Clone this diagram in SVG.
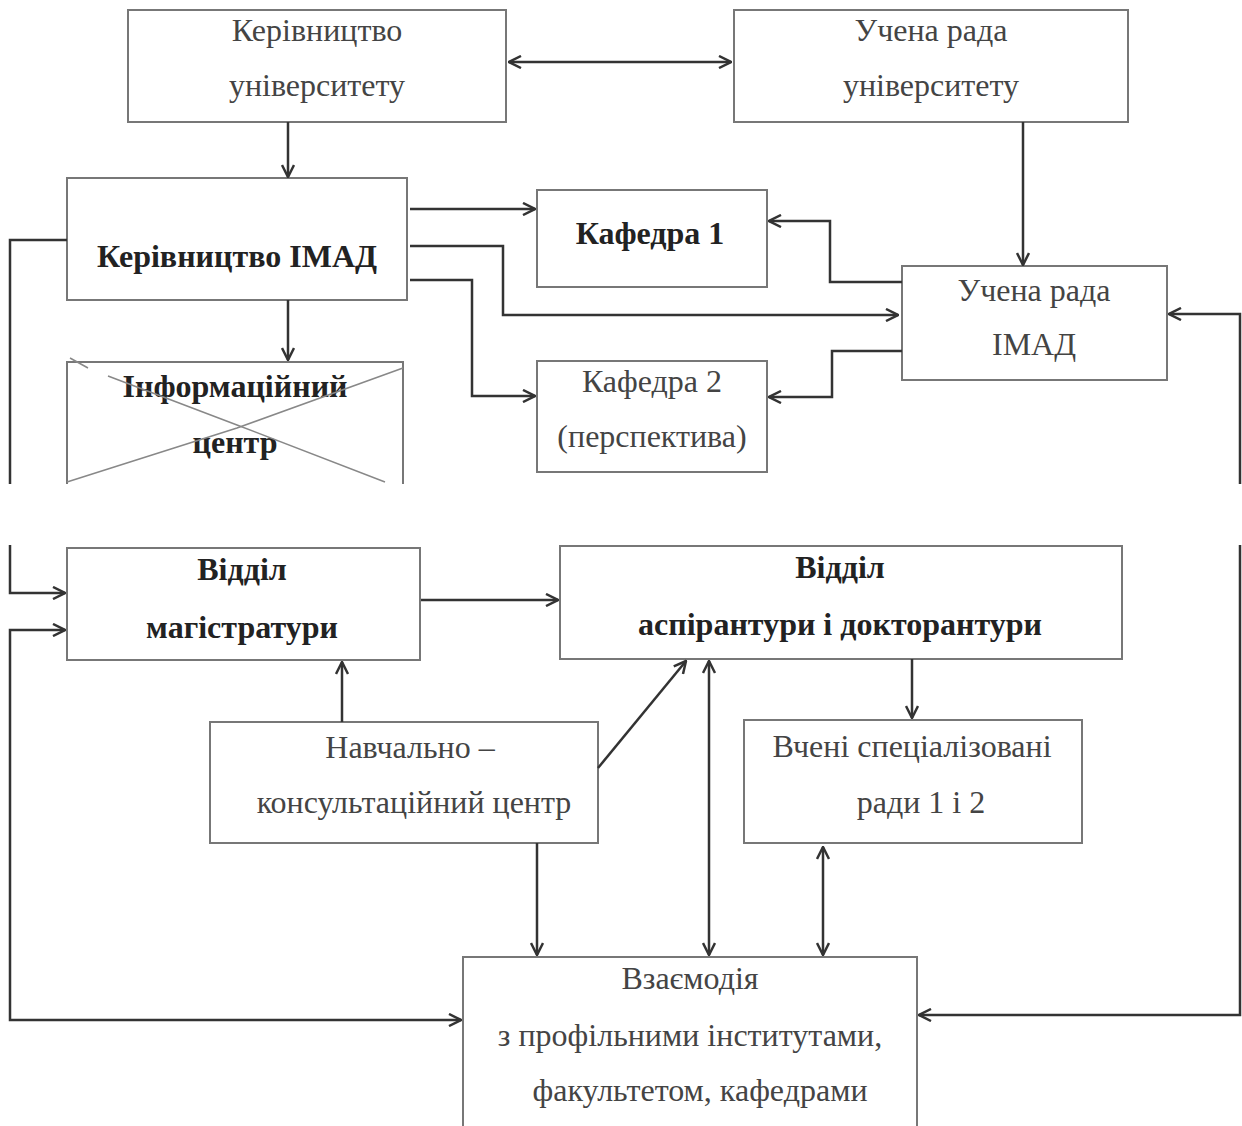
<svg xmlns="http://www.w3.org/2000/svg" width="1242" height="1126" viewBox="0 0 1242 1126">
<style>
.box{fill:#fff;stroke:#777;stroke-width:2}
.t{font-family:"Liberation Serif","Times New Roman",serif;font-size:32px;fill:#444;text-anchor:middle}
.b{font-weight:bold;fill:#222}
.ln{fill:none;stroke:#333;stroke-width:2.5}
.x{fill:none;stroke:#888;stroke-width:1.5}
</style>
<defs>
<marker id="ar" viewBox="0 0 14 14" refX="13" refY="7" markerWidth="14" markerHeight="14" markerUnits="userSpaceOnUse" orient="auto-start-reverse">
<path d="M1,1 L13,7 L1,13" fill="none" stroke="#333" stroke-width="2.5"/>
</marker>
</defs>
<rect width="1242" height="1126" fill="#fff"/>
<g id="kerivnytstvo-univ"><rect class="box" x="128" y="10" width="378" height="112"/><text class="t" x="317" y="41">Керівництво</text><text class="t" x="317" y="96">університету</text></g>
<g id="vchena-rada-univ"><rect class="box" x="734" y="10" width="394" height="112"/><text class="t" x="931" y="41">Учена рада</text><text class="t" x="931" y="96">університету</text></g>
<g id="kerivnytstvo-imad"><rect class="box" x="67" y="178" width="340" height="122"/><text class="t b" x="237" y="267">Керівництво ІМАД</text></g>
<g id="kafedra1"><rect class="box" x="537" y="190" width="230" height="97"/><text class="t b" x="650" y="244">Кафедра 1</text></g>
<g id="vchena-rada-imad"><rect class="box" x="902" y="266" width="265" height="114"/><text class="t" x="1034" y="301">Учена рада</text><text class="t" x="1034" y="355">ІМАД</text></g>
<g id="info-center"><rect class="box" x="67" y="362" width="336" height="124"/><text class="t b" x="235" y="397">Інформаційний</text><text class="t b" x="235" y="453">центр</text><path class="x" d="M67,482 L237,428 L403,368"/><path class="x" d="M70,358 L88,368 M108,376 L237,425 L385,482"/></g>
<g id="kafedra2"><rect class="box" x="537" y="361" width="230" height="111"/><text class="t" x="652" y="392">Кафедра 2</text><text class="t" x="652" y="447">(перспектива)</text></g>
<rect x="0" y="484" width="1242" height="61" fill="#fff"/>
<g id="viddil-mag"><rect class="box" x="67" y="548" width="353" height="112"/><text class="t b" x="242" y="580">Відділ</text><text class="t b" x="242" y="638">магістратури</text></g>
<g id="viddil-asp"><rect class="box" x="560" y="546" width="562" height="113"/><text class="t b" x="840" y="578">Відділ</text><text class="t b" x="840" y="635">аспірантури і докторантури</text></g>
<g id="nkc"><rect class="box" x="210" y="722" width="388" height="121"/><text class="t" x="410" y="758">Навчально –</text><text class="t" x="414" y="813">консультаційний центр</text></g>
<g id="vcheni-rady"><rect class="box" x="744" y="720" width="338" height="123"/><text class="t" x="912" y="757">Вчені спеціалізовані</text><text class="t" x="921" y="813">ради 1 і 2</text></g>
<g id="vzaiemodiia"><rect class="box" x="463" y="957" width="454" height="175"/><text class="t" x="690" y="989">Взаємодія</text><text class="t" x="690" y="1046">з профільними інститутами,</text><text class="t" x="700" y="1101">факультетом, кафедрами</text></g>
<g id="connectors">
<path class="ln" d="M509,62 H731" marker-start="url(#ar)" marker-end="url(#ar)"/>
<path class="ln" d="M288,122 V177" marker-end="url(#ar)"/>
<path class="ln" d="M1023,122 V265" marker-end="url(#ar)"/>
<path class="ln" d="M288,300 V360" marker-end="url(#ar)"/>
<path class="ln" d="M410,209 H535" marker-end="url(#ar)"/>
<path class="ln" d="M410,246 H503 V315 H898" marker-end="url(#ar)"/>
<path class="ln" d="M410,280 H472 V396 H535" marker-end="url(#ar)"/>
<path class="ln" d="M902,282 H830 V221 H769" marker-end="url(#ar)"/>
<path class="ln" d="M902,351 H832 V397 H769" marker-end="url(#ar)"/>
<path class="ln" d="M67,240 H10 V484"/>
<path class="ln" d="M1240,484 V314 H1169" marker-end="url(#ar)"/>
<path class="ln" d="M10,545 V593 H65" marker-end="url(#ar)"/>
<path class="ln" d="M65,630 H10 V1020 H461" marker-start="url(#ar)" marker-end="url(#ar)"/>
<path class="ln" d="M1240,545 V1015 H919" marker-end="url(#ar)"/>
<path class="ln" d="M421,600 H558" marker-end="url(#ar)"/>
<path class="ln" d="M342,722 V662" marker-end="url(#ar)"/>
<path class="ln" d="M598,768 L686,661" marker-end="url(#ar)"/>
<path class="ln" d="M709,661 V955" marker-start="url(#ar)" marker-end="url(#ar)"/>
<path class="ln" d="M912,659 V718" marker-end="url(#ar)"/>
<path class="ln" d="M823,847 V955" marker-start="url(#ar)" marker-end="url(#ar)"/>
<path class="ln" d="M537,843 V955" marker-end="url(#ar)"/>
</g>
</svg>
